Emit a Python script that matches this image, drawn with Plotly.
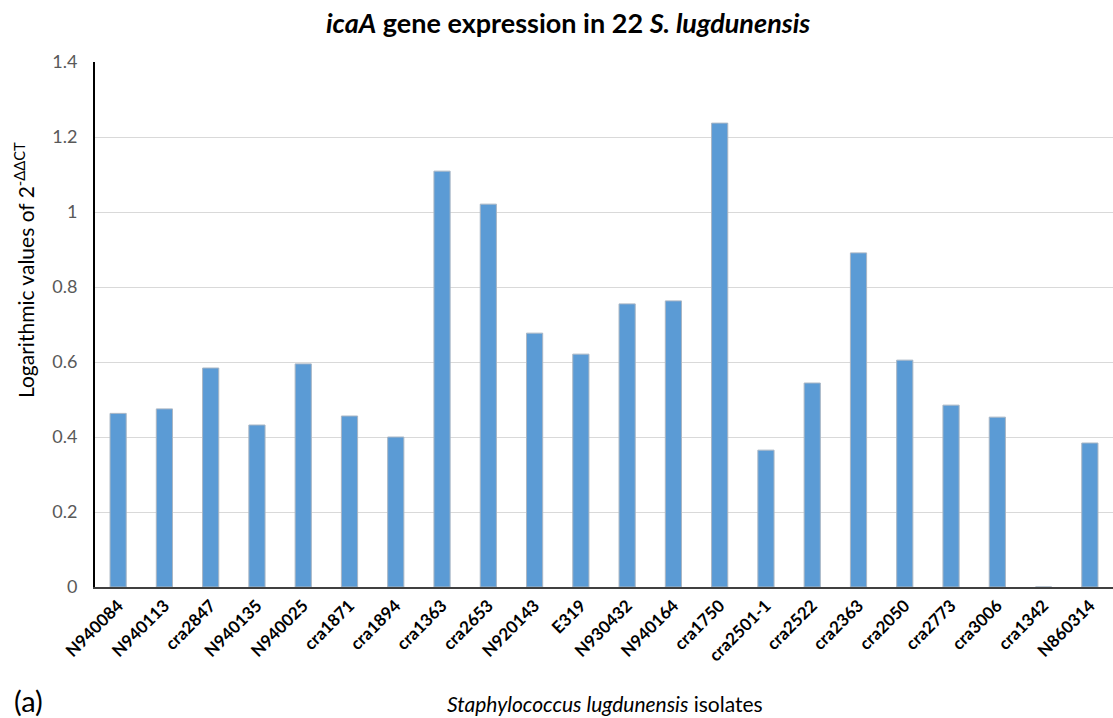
import plotly.graph_objects as go

isolates = ["N940084", "N940113", "cra2847", "N940135", "N940025", "cra1871", "cra1894",
            "cra1363", "cra2653", "N920143", "E319", "N930432", "N940164", "cra1750",
            "cra2501-1", "cra2522", "cra2363", "cra2050", "cra2773", "cra3006", "cra1342",
            "N860314"]
values = [0.463, 0.475, 0.584, 0.432, 0.595, 0.456, 0.400,
          1.109, 1.021, 0.677, 0.621, 0.755, 0.763, 1.237,
          0.365, 0.544, 0.891, 0.605, 0.485, 0.453, 0.0,
          0.384]
y_ticks = [0, 0.2, 0.4, 0.6, 0.8, 1, 1.2, 1.4]
y_tick_labels = ["0", "0.2", "0.4", "0.6", "0.8", "1", "1.2", "1.4"]

FONT = "Lato"
W, H = 1113, 718
L, R, T, B = 95, 0, 62, 131

fig = go.Figure()
fig.add_trace(go.Bar(
    x=isolates, y=values,
    marker=dict(color="#5B9BD5", line=dict(color="#A9B6C4", width=1)),
    width=0.35,
))

def px(x, y):
    return (x - L) / (W - L - R), (H - y - B) / (H - T - B)

annots = []
for text, (x, y), size, angle in [
    ("<b><i>icaA</i> gene expression in 22 <i>S. lugdunensis</i></b>", (568, 22), 27, 0),
    ("Logarithmic values of 2<sup>-ΔΔCT</sup>", (24, 270), 21, -90),
    ("<i>Staphylococcus lugdunensis</i> isolates", (605, 703), 21, 0),
    ("(a)", (28, 700), 29, 0),
]:
    ax, ay = px(x, y)
    annots.append(dict(text=text, x=ax, y=ay, xref="paper", yref="paper",
                       xanchor="center", yanchor="middle",
                       showarrow=False, textangle=angle,
                       font=dict(family=FONT, size=size, color="#000000")))

fig.update_layout(
    width=W, height=H,
    margin=dict(l=L, r=R, t=T, b=B),
    plot_bgcolor="white", paper_bgcolor="white",
    showlegend=False,
    font=dict(family=FONT, color="#595959"),
    xaxis=dict(
        type="category",
        tickangle=-45,
        tickfont=dict(family=FONT, size=17, color="#000000", weight="bold"),
        showline=True, linecolor="#404040", linewidth=2,
        showgrid=False, ticks="", ticklen=0,
        range=[-0.5, 21.5],
    ),
    yaxis=dict(
        range=[0, 1.4],
        tickvals=y_ticks, ticktext=y_tick_labels,
        tickfont=dict(family=FONT, size=18, color="#595959"),
        showline=True, linecolor="#000000", linewidth=2,
        showgrid=True, gridcolor="#D9D9D9", gridwidth=1,
        zeroline=False, ticks="", ticklabelstandoff=12,
    ),
    annotations=annots,
)

fig.write_html("out.html", config={"displayModeBar": False},
               post_script="document.body.style.margin='0';")
